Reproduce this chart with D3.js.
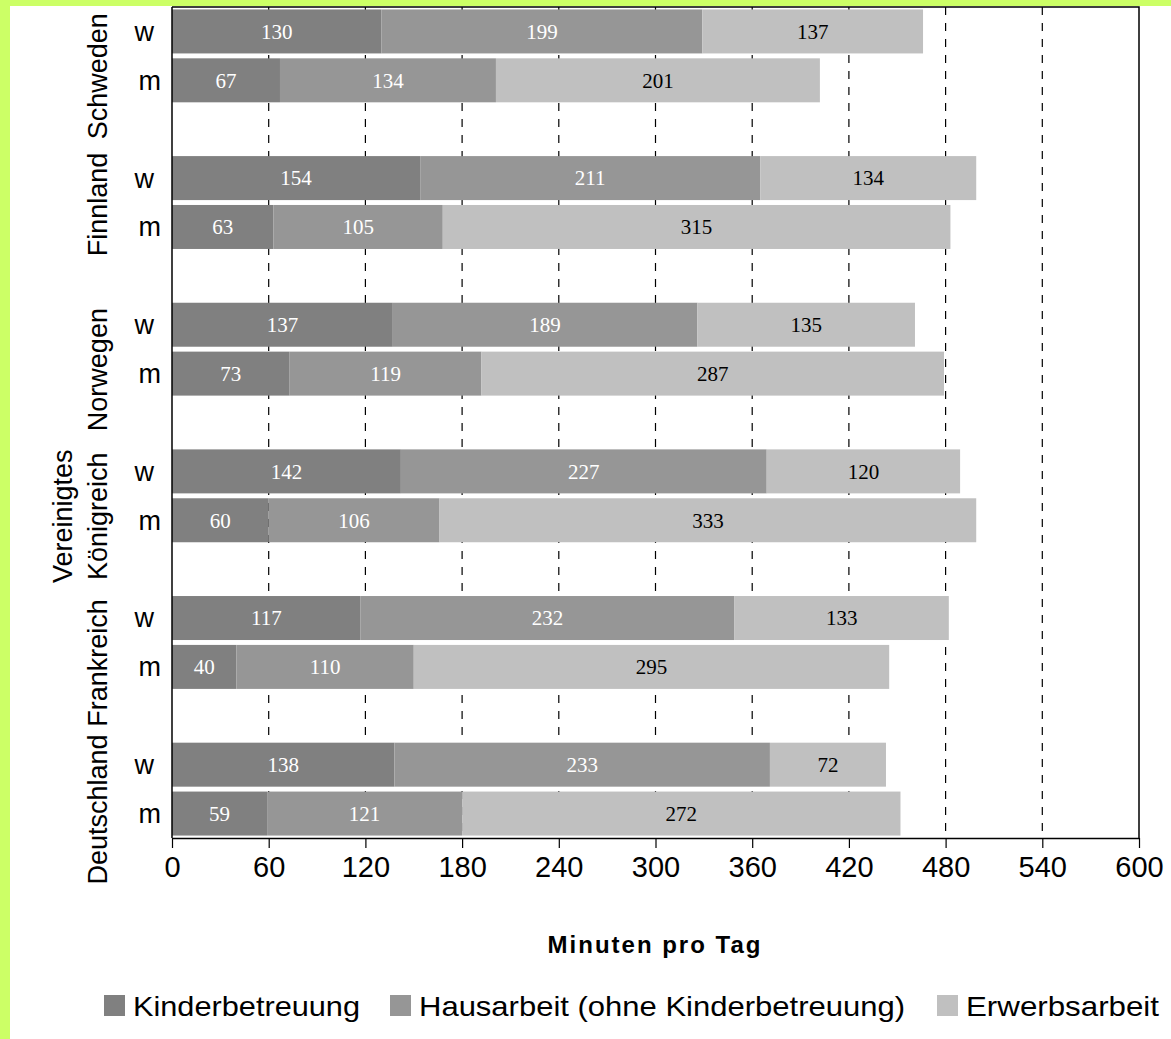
<!DOCTYPE html>
<html>
<head>
<meta charset="utf-8">
<script src="https://cdn.jsdelivr.net/npm/d3@7"></script>
<style>
  html, body { margin: 0; padding: 0; background: #ccff66; }
  svg { display: block; }
</style>
</head>
<body>
<svg id="chart" width="1171" height="1039"></svg>
<script>
// Rows from top to bottom: each country has a "w" row and an "m" row.
const countries = ["Schweden", "Finnland", "Norwegen", "Vereinigtes Königreich", "Frankreich", "Deutschland"];
const countryLines = [["Schweden"], ["Finnland"], ["Norwegen"], ["Vereinigtes", "Königreich"], ["Frankreich"], ["Deutschland"]];
const sexes = ["w", "m"];

// Minutes per day, one value per row (country × sex, w first)
const kinderbetreuung = [130, 67, 154, 63, 137, 73, 142, 60, 117, 40, 138, 59];
const hausarbeit      = [199, 134, 211, 105, 189, 119, 227, 106, 232, 110, 233, 121];
const erwerbsarbeit   = [137, 201, 134, 315, 135, 287, 120, 333, 133, 295, 72, 272];

const seriesNames = ["Kinderbetreuung", "Hausarbeit (ohne Kinderbetreuung)", "Erwerbsarbeit"];
const seriesColors = ["#808080", "#969696", "#c0c0c0"];
const seriesTextColors = ["#ffffff", "#ffffff", "#000000"];

const xTicks = [0, 60, 120, 180, 240, 300, 360, 420, 480, 540, 600];

// Build rows and category slots (an empty slot separates two countries)
const rows = [];
countries.forEach((c, ci) => sexes.forEach((s, si) => {
  const i = ci * 2 + si;
  rows.push({ key: c + "|" + s, country: c, ci, sex: s,
              values: [kinderbetreuung[i], hausarbeit[i], erwerbsarbeit[i]] });
}));
const slots = [];
countries.forEach((c, ci) => {
  sexes.forEach(s => slots.push(c + "|" + s));
  if (ci < countries.length - 1) slots.push("gap" + ci);
});

const svg = d3.select("#chart");

// White panel
svg.append("rect").attr("x", 10).attr("y", 6).attr("width", 1161).attr("height", 1033).attr("fill", "#ffffff");

const x = d3.scaleLinear().domain([0, 600]).range([172, 1139]);
const y = d3.scaleBand().domain(slots).range([7, 838]).paddingInner(0.1).paddingOuter(0.05);

// Dashed vertical gridlines
svg.append("g").selectAll("line").data(xTicks.filter(t => t > 0 && t < 600)).join("line")
  .attr("x1", d => x(d)).attr("x2", d => x(d))
  .attr("y1", 7).attr("y2", 838)
  .attr("stroke", "#000").attr("stroke-width", 1.2).attr("stroke-dasharray", "8,8");

// Stacked bars
const stackData = rows.map(r => {
  let acc = 0;
  return r.values.map((v, k) => { const seg = { row: r, k, v, x0: acc, x1: acc + v }; acc += v; return seg; });
}).flat();

const bars = svg.append("g");
bars.selectAll("rect").data(stackData).join("rect")
  .attr("x", d => x(d.x0))
  .attr("y", d => y(d.row.key))
  .attr("width", d => x(d.x1) - x(d.x0))
  .attr("height", y.bandwidth())
  .attr("fill", d => seriesColors[d.k]);

bars.selectAll("text").data(stackData).join("text")
  .attr("x", d => x((d.x0 + d.x1) / 2))
  .attr("y", d => y(d.row.key) + y.bandwidth() / 2)
  .attr("dy", "0.35em")
  .attr("text-anchor", "middle")
  .attr("font-family", "'Liberation Serif', 'DejaVu Serif', serif")
  .attr("font-size", 21)
  .attr("fill", d => seriesTextColors[d.k])
  .text(d => d.v);

// Plot frame (top and right borders)
svg.append("path")
  .attr("d", `M${x(0)},7H${x(600)}V838`)
  .attr("fill", "none").attr("stroke", "#000").attr("stroke-width", 1.5);

// Bottom axis
const xAxis = svg.append("g").attr("transform", "translate(0,838)")
  .call(d3.axisBottom(x).tickValues(xTicks).tickSize(10).tickPadding(8).tickSizeOuter(0));
xAxis.select(".domain").attr("stroke", "#000").attr("stroke-width", 1.5);
xAxis.selectAll(".tick line").attr("stroke", "#000").attr("stroke-width", 1.2);
xAxis.selectAll(".tick text")
  .attr("font-family", "Arial, 'Liberation Sans', sans-serif")
  .attr("font-size", 29).attr("fill", "#000");

// Left axis line
svg.append("line").attr("x1", x(0)).attr("x2", x(0)).attr("y1", 7).attr("y2", 838)
  .attr("stroke", "#000").attr("stroke-width", 1.5);

// Sex labels
svg.append("g").selectAll("text").data(rows).join("text")
  .attr("x", d => d.sex === "w" ? 154 : 161)
  .attr("y", d => y(d.key) + y.bandwidth() / 2)
  .attr("dy", "0.35em")
  .attr("text-anchor", "end")
  .attr("font-family", "Arial, 'Liberation Sans', sans-serif")
  .attr("font-size", 27)
  .text(d => d.sex);

// Country labels, rotated; anchored on the "m" row or between both rows
const labelAnchor = ["m", "mid", "m", "m", "m", "m"];
const countryG = svg.append("g");
countries.forEach((c, ci) => {
  const cw = y(c + "|w") + y.bandwidth() / 2;
  const cm = y(c + "|m") + y.bandwidth() / 2;
  const cy = labelAnchor[ci] === "m" ? cm - 4 : (cw + cm) / 2 + 2;
  const lines = countryLines[ci];
  lines.forEach((ln, li) => {
    const bx = 107 - (lines.length - 1 - li) * 35;
    countryG.append("text")
      .attr("transform", `translate(${bx},${cy}) rotate(-90)`)
      .attr("text-anchor", "middle")
      .attr("font-family", "Arial, 'Liberation Sans', sans-serif")
      .attr("font-size", 27)
      .text(ln);
  });
});

// Axis title
svg.append("text")
  .attr("x", 655).attr("y", 953)
  .attr("text-anchor", "middle")
  .attr("font-family", "Arial, 'Liberation Sans', sans-serif")
  .attr("font-weight", "bold")
  .attr("font-size", 24)
  .attr("letter-spacing", 2)
  .text("Minuten pro Tag");

// Legend
const legendX = [104, 390, 937];
const legendW = [227, 486, 193];
const legend = svg.append("g");
seriesNames.forEach((n, k) => {
  legend.append("rect").attr("x", legendX[k]).attr("y", 995).attr("width", 21).attr("height", 21)
    .attr("fill", seriesColors[k]);
  legend.append("text").attr("x", legendX[k] + 29).attr("y", 1016)
    .attr("font-family", "Arial, 'Liberation Sans', sans-serif")
    .attr("font-size", 28)
    .attr("textLength", legendW[k])
    .attr("lengthAdjust", "spacingAndGlyphs")
    .text(n);
});
</script>
</body>
</html>
